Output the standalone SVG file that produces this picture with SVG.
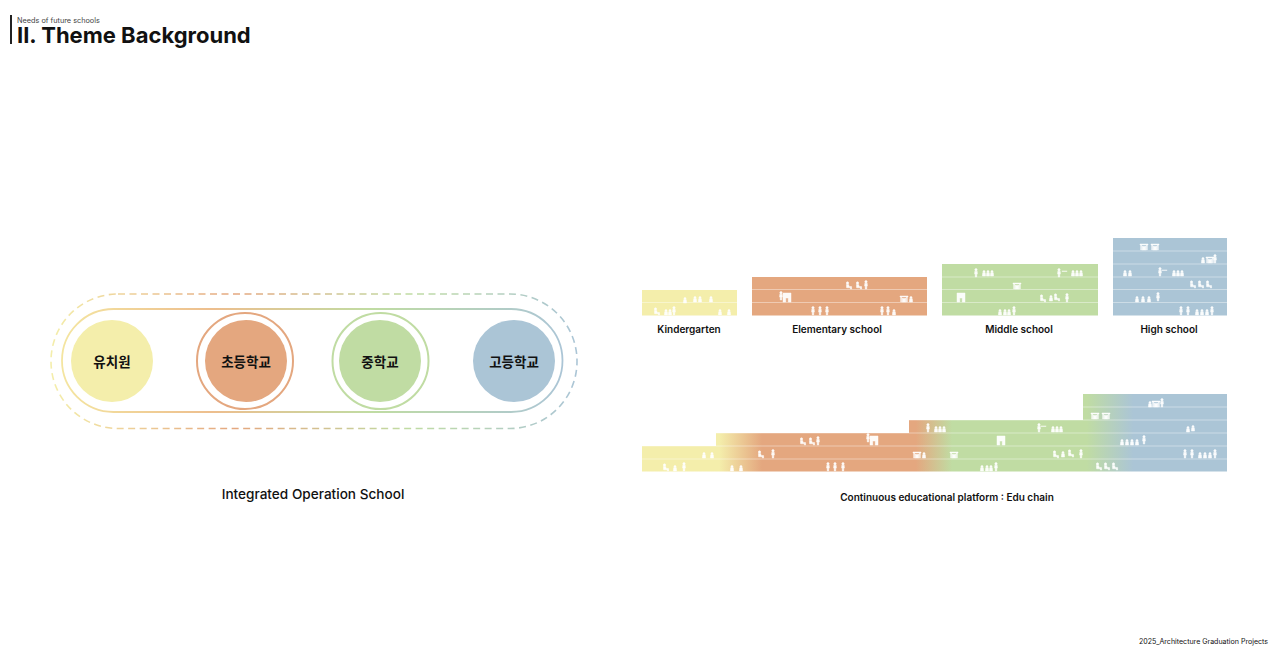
<svg xmlns="http://www.w3.org/2000/svg" xmlns:xlink="http://www.w3.org/1999/xlink" width="1280" height="653" viewBox="0 0 1280 653">
<style>
text{font-family:Inter,"Noto Sans","Noto Sans CJK KR",sans-serif;fill:#111}
.kr{font-family:"Noto Sans CJK KR",sans-serif;font-size:13.500px;font-weight:700;text-anchor:middle}
.lb{font-size:10px;font-weight:600;text-anchor:middle}
.ln{stroke:#fff;stroke-opacity:.5;stroke-width:.8;fill:none}
.fig{fill:#fff;stroke:#fff;stroke-width:.5;opacity:.95}
</style>
<defs>
<linearGradient id="gOuter" gradientUnits="userSpaceOnUse" x1="51" y1="0" x2="577" y2="0">
<stop offset="0" stop-color="#F4EEAB"/><stop offset=".35" stop-color="#E4A77F"/><stop offset=".68" stop-color="#C0DCA3"/><stop offset="1" stop-color="#ABC5D6"/>
</linearGradient>
<linearGradient id="gInner" gradientUnits="userSpaceOnUse" x1="62" y1="0" x2="563" y2="0">
<stop offset="0" stop-color="#F4E5A0"/><stop offset=".3" stop-color="#EDBE8E"/><stop offset=".62" stop-color="#C0DCA3"/><stop offset="1" stop-color="#ABC5D6"/>
</linearGradient>
<linearGradient id="gChain" gradientUnits="userSpaceOnUse" x1="642" y1="0" x2="1227" y2="0">
<stop offset=".132" stop-color="#F4EEAB"/><stop offset=".205" stop-color="#E4A77F"/><stop offset=".468" stop-color="#E4A77F"/><stop offset=".53" stop-color="#C0DCA3"/><stop offset=".76" stop-color="#C0DCA3"/><stop offset=".84" stop-color="#ABC5D6"/>
</linearGradient>
<g id="p"><circle cx="0" cy="-7.2" r="1.2"/><path d="M-1.2-5.8H1.2L1.4-3H.8L.7 0H-.7L-.8-3H-1.4Z"/></g>
<g id="c"><circle cx="0" cy="-4.4" r="1.1"/><path d="M-1.3-3.3H1.3L1.6 0H-1.6Z"/></g>
<g id="s"><circle cx="-1.5" cy="-6" r="1.2"/><path d="M-2.6-4.6H-.4L.2-2.4H2.6V0H1.4V-1.2H-2.4Z"/></g>
<g id="t"><path d="M-4-6H4V-5H3.3V0H2.4V-5H-2.4V0H-3.3V-5H-4Z"/><rect x="-1.8" y="-3.6" width="3.6" height="3.6"/></g>
<g id="b"><path d="M-4-9H4V0H1.2V-4H-1.2V0H-4Z"/></g>
</defs>

<g id="header">
<rect x="10" y="15" width="2" height="29" fill="#222"/>
<text x="17" y="22.500" font-size="7.300" style="fill:#444">Needs of future schools</text>
<text x="17" y="43" font-size="22" font-weight="700">II. Theme Background</text>
</g>

<g id="connectors" fill="none">
<rect id="outer-pill" x="51" y="294" width="526" height="134.500" rx="67" ry="67" stroke="url(#gOuter)" stroke-width="1.600" stroke-dasharray="7 4.500"/>
<rect id="inner-pill" x="62" y="309" width="500.500" height="103" rx="51.500" ry="51.500" stroke="url(#gInner)" stroke-width="1.800"/>
</g>

<g id="node-kindergarten"><circle cx="112" cy="361" r="41" fill="#F4EEAB"/><text class="kr" x="112" y="367">유치원</text></g>
<g id="node-elementary"><circle cx="245" cy="361" r="48" fill="#fff" stroke="#E4A77F" stroke-width="2"/><circle cx="246" cy="361" r="41" fill="#E4A77F"/><text class="kr" x="246" y="367">초등학교</text></g>
<g id="node-middle"><circle cx="380.500" cy="361" r="48" fill="#fff" stroke="#C0DCA3" stroke-width="2"/><circle cx="380" cy="361" r="41" fill="#C0DCA3"/><text class="kr" x="380" y="367">중학교</text></g>
<g id="node-high"><circle cx="514" cy="361" r="41" fill="#ABC5D6"/><text class="kr" x="514" y="367">고등학교</text></g>
<text x="313" y="499" font-size="13.600" font-weight="500" text-anchor="middle">Integrated Operation School</text>

<g id="block-kindergarten">
<rect x="642" y="290" width="95" height="25.500" fill="#F4EEAB"/>
<path class="ln" d="M642 302.500H737"/>
<g class="fig"><use xlink:href="#c" x="685" y="303"/><use xlink:href="#c" x="695" y="302"/><use xlink:href="#c" x="700" y="302"/><use xlink:href="#c" x="711" y="302"/><use xlink:href="#s" x="657" y="315"/><use xlink:href="#c" x="666" y="315"/><use xlink:href="#c" x="670" y="315"/><use xlink:href="#p" x="674" y="315"/><use xlink:href="#c" x="720" y="315"/><use xlink:href="#c" x="729" y="315"/></g>
</g>
<g id="block-elementary">
<rect x="752" y="277" width="175" height="38.500" fill="#E4A77F"/>
<path class="ln" d="M752 289.500H927M752 302.500H927"/>
<g class="fig"><use xlink:href="#s" x="849" y="289"/><use xlink:href="#s" x="859" y="289"/><use xlink:href="#p" x="866" y="289"/><use xlink:href="#p" x="781" y="300"/><use xlink:href="#b" x="787" y="302"/><use xlink:href="#t" x="904" y="302"/><use xlink:href="#c" x="911" y="302"/><use xlink:href="#p" x="813" y="315"/><use xlink:href="#p" x="820" y="315"/><use xlink:href="#p" x="827" y="315"/><use xlink:href="#p" x="882" y="315"/><use xlink:href="#p" x="888" y="315"/><use xlink:href="#c" x="894" y="315"/></g>
</g>
<g id="block-middle">
<rect x="942" y="264" width="156" height="51.500" fill="#C0DCA3"/>
<path class="ln" d="M942 277H1098M942 289.500H1098M942 302.500H1098"/>
<g class="fig"><use xlink:href="#p" x="976" y="277"/><use xlink:href="#c" x="984" y="276"/><use xlink:href="#c" x="988" y="276"/><use xlink:href="#c" x="992" y="276"/><use xlink:href="#p" x="1059" y="277"/><rect x="1062" y="271" width="5" height=".4"/><use xlink:href="#c" x="1073" y="276"/><use xlink:href="#c" x="1077" y="276"/><use xlink:href="#c" x="1081" y="276"/><use xlink:href="#t" x="1017" y="289"/><use xlink:href="#b" x="961" y="302"/><use xlink:href="#s" x="1043" y="302"/><use xlink:href="#c" x="1051" y="301"/><use xlink:href="#s" x="1057" y="301"/><use xlink:href="#p" x="1067" y="302"/><use xlink:href="#c" x="1000" y="315"/><use xlink:href="#c" x="1005" y="315"/><use xlink:href="#c" x="1009" y="315"/><use xlink:href="#p" x="1014" y="315"/></g>
</g>
<g id="block-high">
<rect x="1113" y="238" width="114" height="77.500" fill="#ABC5D6"/>
<path class="ln" d="M1113 251H1227M1113 264H1227M1113 277H1227M1113 289.500H1227M1113 302.500H1227"/>
<g class="fig"><use xlink:href="#t" x="1144" y="250"/><use xlink:href="#t" x="1155" y="250"/><use xlink:href="#c" x="1203" y="263"/><use xlink:href="#t" x="1210" y="263"/><use xlink:href="#p" x="1215" y="263"/><use xlink:href="#c" x="1125" y="276"/><use xlink:href="#c" x="1130" y="276"/><use xlink:href="#p" x="1160" y="276"/><rect x="1162" y="270" width="5" height=".4"/><use xlink:href="#c" x="1174" y="276"/><use xlink:href="#c" x="1178" y="276"/><use xlink:href="#c" x="1182" y="276"/><use xlink:href="#s" x="1193" y="288"/><use xlink:href="#s" x="1201" y="288"/><use xlink:href="#s" x="1209" y="288"/><use xlink:href="#c" x="1137" y="302"/><use xlink:href="#c" x="1143" y="302"/><use xlink:href="#c" x="1149" y="302"/><use xlink:href="#p" x="1158" y="301"/><use xlink:href="#p" x="1181" y="315"/><use xlink:href="#p" x="1188" y="315"/><use xlink:href="#c" x="1197" y="315"/><use xlink:href="#c" x="1202" y="315"/><use xlink:href="#c" x="1207" y="315"/><use xlink:href="#p" x="1212" y="315"/></g>
</g>
<text class="lb" x="689" y="333">Kindergarten</text>
<text class="lb" x="837" y="333">Elementary school</text>
<text class="lb" x="1019" y="333">Middle school</text>
<text class="lb" x="1169" y="333">High school</text>

<g id="block-chain">
<path d="M1083 394H1227V471.500H642V446H716V433H909V420H1083Z" fill="url(#gChain)"/>
<path class="ln" d="M1083 407H1227M909 420H1227M716 433H1227M642 446H1227M642 459H1227"/>
<g class="fig"><use xlink:href="#c" x="1150" y="407"/><use xlink:href="#t" x="1156" y="407"/><use xlink:href="#p" x="1162" y="407"/><use xlink:href="#t" x="1095" y="419"/><use xlink:href="#t" x="1106" y="419"/><use xlink:href="#p" x="928" y="432"/><use xlink:href="#c" x="936" y="432"/><use xlink:href="#c" x="940" y="432"/><use xlink:href="#c" x="944" y="432"/><use xlink:href="#p" x="1039" y="432"/><rect x="1041" y="426" width="5" height=".4"/><use xlink:href="#c" x="1053" y="432"/><use xlink:href="#c" x="1057" y="432"/><use xlink:href="#c" x="1061" y="432"/><use xlink:href="#c" x="1188" y="432"/><use xlink:href="#c" x="1193" y="431"/><use xlink:href="#s" x="803" y="445"/><use xlink:href="#s" x="812" y="445"/><use xlink:href="#p" x="818" y="445"/><use xlink:href="#b" x="1001" y="445"/><use xlink:href="#p" x="868" y="442"/><use xlink:href="#b" x="874" y="445"/><use xlink:href="#c" x="1122" y="445"/><use xlink:href="#c" x="1127" y="445"/><use xlink:href="#c" x="1132" y="445"/><use xlink:href="#c" x="1137" y="445"/><use xlink:href="#p" x="1144" y="444"/><use xlink:href="#c" x="704" y="458"/><use xlink:href="#c" x="712" y="458"/><use xlink:href="#s" x="761" y="458"/><use xlink:href="#p" x="773" y="458"/><use xlink:href="#t" x="917" y="458"/><use xlink:href="#c" x="924" y="458"/><use xlink:href="#t" x="954" y="458"/><use xlink:href="#s" x="1056" y="458"/><use xlink:href="#c" x="1063" y="457"/><use xlink:href="#s" x="1071" y="457"/><use xlink:href="#p" x="1081" y="458"/><use xlink:href="#p" x="1185" y="458"/><use xlink:href="#p" x="1192" y="458"/><use xlink:href="#c" x="1200" y="458"/><use xlink:href="#c" x="1205" y="458"/><use xlink:href="#c" x="1210" y="458"/><use xlink:href="#p" x="1215" y="458"/><use xlink:href="#s" x="666" y="471"/><use xlink:href="#c" x="675" y="471"/><use xlink:href="#p" x="684" y="471"/><use xlink:href="#c" x="732" y="471"/><use xlink:href="#c" x="741" y="471"/><use xlink:href="#p" x="828" y="471"/><use xlink:href="#p" x="835" y="471"/><use xlink:href="#p" x="843" y="471"/><use xlink:href="#c" x="982" y="471"/><use xlink:href="#c" x="987" y="471"/><use xlink:href="#c" x="991" y="471"/><use xlink:href="#p" x="996" y="471"/><use xlink:href="#s" x="1099" y="470"/><use xlink:href="#s" x="1107" y="470"/><use xlink:href="#s" x="1115" y="470"/></g>
</g>
<text class="lb" x="947" y="500.500">Continuous educational platform : Edu chain</text>
<text x="1268" y="644" font-size="7.050" text-anchor="end">2025_Architecture Graduation Projects</text>
</svg>
